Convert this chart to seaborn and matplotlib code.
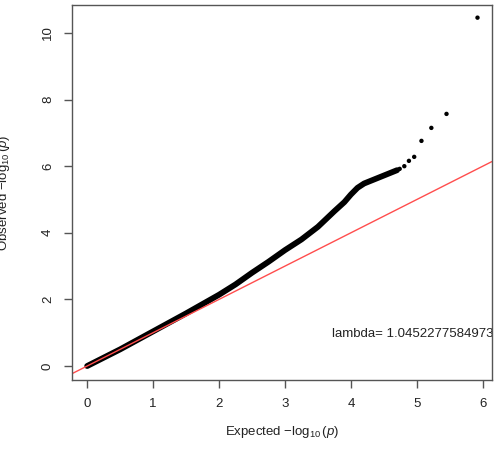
import matplotlib
matplotlib.use("Agg")
import matplotlib.pyplot as plt
import seaborn as sns
import pandas as pd

# dense part of the QQ curve (expected, observed)
dense_expected = [0.0, 0.25, 0.5, 0.75, 1.0, 1.25, 1.5, 1.75, 2.0, 2.25, 2.5, 2.75, 3.0, 3.25, 3.5, 3.75, 3.9, 4.0, 4.1, 4.2, 4.3, 4.4, 4.5, 4.6, 4.7]
dense_observed = [0.0, 0.25, 0.5, 0.77, 1.04, 1.31, 1.58, 1.86, 2.14, 2.45, 2.8, 3.13, 3.48, 3.8, 4.18, 4.65, 4.92, 5.15, 5.35, 5.48, 5.56, 5.64, 5.72, 5.8, 5.88]

# sparse tail points
tail_expected = [4.74, 4.81, 4.88, 4.96, 5.07, 5.22, 5.45, 5.92]
tail_observed = [5.92, 6.0, 6.16, 6.28, 6.76, 7.15, 7.57, 10.46]

x_ticks = [0, 1, 2, 3, 4, 5, 6]
y_ticks = [0, 2, 4, 6, 8, 10]
lambda_label = "lambda= 1.04522775849731"

sns.set_style("ticks")
plt.rcParams["font.family"] = ["Liberation Sans", "DejaVu Sans"]
plt.rcParams["mathtext.fontset"] = "custom"
plt.rcParams["mathtext.rm"] = "Liberation Sans"
plt.rcParams["mathtext.it"] = "Liberation Sans:italic"

fig = plt.figure(figsize=(4.95, 4.49), dpi=100)
ax = fig.add_axes([72 / 495, 1 - 380 / 449, (492 - 72) / 495, (380 - 5) / 449])

dense = pd.DataFrame({"e": dense_expected, "o": dense_observed})
tail = pd.DataFrame({"e": tail_expected, "o": tail_observed})

sns.lineplot(data=dense, x="e", y="o", ax=ax, color="black", linewidth=4.2,
             solid_capstyle="round", sort=False)
sns.scatterplot(data=tail, x="e", y="o", ax=ax, color="black", s=10,
                edgecolor="none")
ax.axline((0, 0), slope=1, color="#ff4d4d", linewidth=1.0)

ax.set_xlim(-0.23, 6.14)
ax.set_ylim(-0.42, 10.84)
ax.set_xticks(x_ticks)
ax.set_yticks(y_ticks)
ax.tick_params(axis="both", length=6, width=1.0, color="#555555",
               labelsize=9.5, labelcolor="#222222", pad=7)
for lbl in ax.get_yticklabels():
    lbl.set_rotation(90)
    lbl.set_va("center")
for sp in ax.spines.values():
    sp.set_color("#555555")
    sp.set_linewidth(1.0)

ax.set_xlabel("")
ax.set_ylabel("")
fig.text(282 / 495, 1 - 432 / 449, r"Expected $-\log_{10}(\mathit{p})$",
         ha="center", va="center", fontsize=9.5, color="#222222")
fig.text(4 / 495, 1 - 193 / 449, r"Observed $-\log_{10}(\mathit{p})$",
         ha="center", va="center", rotation=90, fontsize=9.5, color="#222222")

ax.text(3.71, 0.96, lambda_label, ha="left", va="center", fontsize=9.5,
        color="#222222", clip_on=True)

fig.savefig("out.png", dpi=100)
